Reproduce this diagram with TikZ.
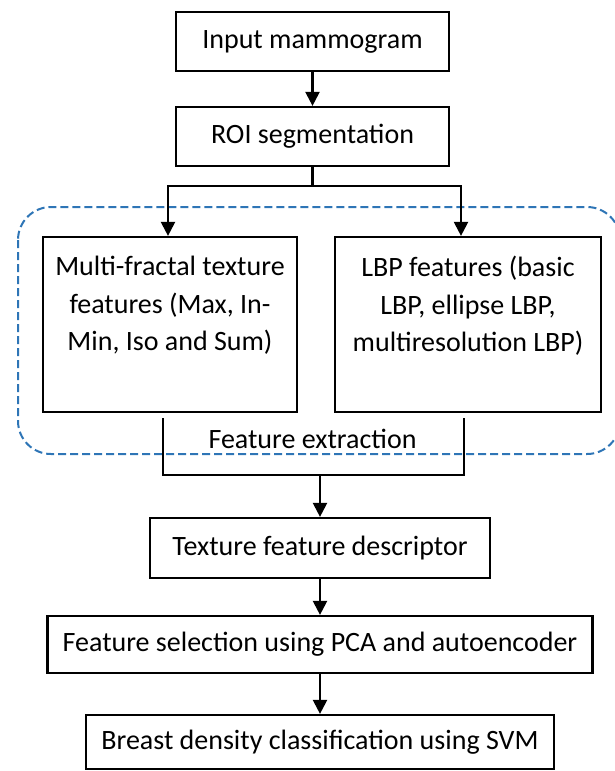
\documentclass[tikz,border=0pt]{standalone}
\usepackage{fontspec}
\setmainfont{Carlito}
\usetikzlibrary{arrows.meta,positioning}
\definecolor{grpblue}{HTML}{2E75B6}

\begin{document}
\begin{tikzpicture}[x=1pt,y=-1pt,
    every node/.style={font=\fontsize{28}{37.5}\selectfont},
    box/.style={draw,line width=2.2pt,inner sep=0pt},
    arr/.style={line width=2.2pt,-{Triangle[length=14pt,width=14pt]}}]
    \useasboundingbox (0,0) rectangle (614,771);
    % input and segmentation
    \node[box,minimum width=273pt,minimum height=59pt] (inp) at (312.5,41.5) {Input mammogram};
    \node[box,minimum width=273pt,minimum height=59pt] (roi) at (312.5,136.5) {ROI segmentation};
    % the two feature branches
    \node[box,minimum width=254pt,minimum height=175pt] (mfrac) at (170,324.5) {};
    \node[box,minimum width=266pt,minimum height=175pt] (lbp) at (468,324.5) {};
    \node[anchor=north,align=center,inner sep=0pt] (mfractxt) at ([yshift=-20pt]mfrac.north) {Multi-fractal texture\\features (Max, In-\\Min, Iso and Sum)};
    \node[anchor=north,align=center,inner sep=0pt] (lbptxt) at ([yshift=-20pt]lbp.north) {LBP features (basic\\LBP, ellipse LBP,\\multiresolution LBP)};
    \node (fe) at (312.5,439) {Feature extraction};
    % dashed group round the branches
    \draw[grpblue,line width=2pt,dash pattern=on 8pt off 4pt,rounded corners=33pt] (18,207) rectangle (620,454);
    % descriptor, selection, classification
    \node[box,minimum width=340pt,minimum height=60pt] (tex) at (320,548) {Texture feature descriptor};
    \node[box,minimum width=545pt,minimum height=57pt] (fsel) at (320,644.5) {Feature selection using PCA and autoencoder};
    \node[box,minimum width=468pt,minimum height=54pt] (svm) at (320,742) {Breast density classification using SVM};
    % connectors
    \draw[arr] (inp.south) -- (roi.north);
    \coordinate (split) at (312.5,186);
    \draw[line width=2.2pt] (roi.south) -- (split);
    \draw[arr] (split) -| ([xshift=-2pt]mfrac.north);
    \draw[arr] (split) -| ([xshift=-7pt]lbp.north);
    \coordinate (mlow) at (163,418);
    \coordinate (llow) at (464,418);
    \coordinate (merge) at (320,475);
    \draw[line width=2.2pt] (mlow) |- (merge) -| (llow);
    \draw[arr] (merge) -- (tex.north);
    \draw[arr] (tex.south) -- (fsel.north);
    \draw[arr] (fsel.south) -- (svm.north);
\end{tikzpicture}
\end{document}
